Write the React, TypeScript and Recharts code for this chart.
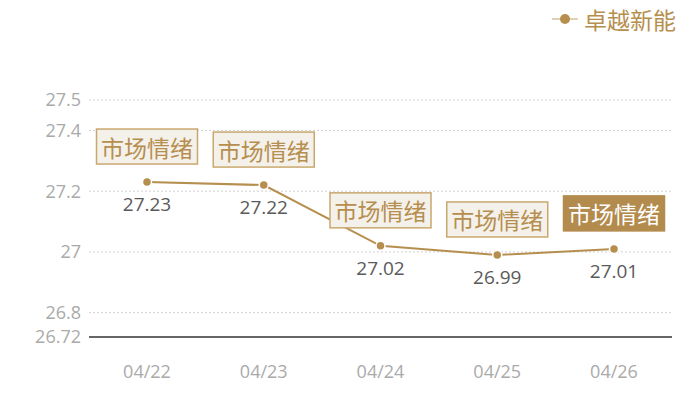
import React from 'react';
import { LineChart, Line, XAxis, YAxis, CartesianGrid } from 'recharts';

const dates = ['04/22', '04/23', '04/24', '04/25', '04/26'];
const prices = [27.23, 27.22, 27.02, 26.99, 27.01];
const tags = ['市场情绪', '市场情绪', '市场情绪', '市场情绪', '市场情绪'];
const yTicks = [26.72, 26.8, 27, 27.2, 27.4, 27.5];
const gridValues = [26.8, 27, 27.2, 27.4, 27.5];
const seriesName = '卓越新能';

const data = dates.map((d, i) => ({ date: d, price: prices[i], tag: tags[i] }));

const GOLD = '#b68e4e';
const HIGHLIGHT = dates.length - 1;
const CJK = '"Noto Sans CJK SC", "Open Sans", sans-serif';
const NUM = '"Open Sans", "Noto Sans", sans-serif';

const PointLabel = (props: any) => {
  const { x, y, value, index } = props;
  const hot = index === HIGHLIGHT;
  const w = 101;
  const h = 35;
  const top = y - 18 - h;
  return (
    <g>
      <rect
        x={x - w / 2}
        y={top}
        width={w}
        height={h}
        fill={hot ? '#b38b4d' : '#f4f0ea'}
        stroke={hot ? '#b38b4d' : '#c9a86e'}
        strokeWidth={1.5}
      />
      <text
        x={x}
        y={top + h / 2}
        textAnchor="middle"
        dominantBaseline="central"
        fontFamily={CJK}
        fontSize={23}
        fill={hot ? '#ffffff' : '#b68e4e'}
      >
        {tags[index]}
      </text>
      <text
        x={x}
        y={y + 22}
        textAnchor="middle"
        dominantBaseline="central"
        fontFamily={NUM}
        fontSize={19}
        fill="#5a5a5a"
      >
        {value}
      </text>
    </g>
  );
};

const LegendBox = () => (
  <div
    style={{
      position: 'absolute',
      top: 4,
      right: 24,
      display: 'flex',
      alignItems: 'center',
      fontFamily: CJK,
      fontSize: 23,
      color: GOLD,
      lineHeight: '30px',
    }}
  >
    <svg width={26} height={12} style={{ marginRight: 6 }}>
      <line x1={0} y1={6} x2={26} y2={6} stroke="#d6c19c" strokeWidth={1.5} />
      <circle cx={13} cy={6} r={5} fill={GOLD} />
    </svg>
    <span>{seriesName}</span>
  </div>
);

export default function App() {
  return (
    <div style={{ position: 'absolute', left: 0, top: 0, width: 700, height: 400, background: '#fff' }}>
      <LineChart width={700} height={400} data={data} margin={{ top: 100, right: 28, bottom: 33, left: 0 }}>
        <CartesianGrid
          horizontal
          vertical={false}
          horizontalValues={gridValues}
          stroke="#d0d0d0"
          strokeDasharray="2 2"
        />
        <XAxis
          dataKey="date"
          padding={{ left: 58, right: 58 }}
          axisLine={{ stroke: '#333333', strokeWidth: 1.5 }}
          tickLine={false}
          tickMargin={22}
          height={30}
          tick={{ fill: '#aaaaaa', fontSize: 18, fontFamily: NUM }}
        />
        <YAxis
          width={89}
          domain={[26.72, 27.5]}
          ticks={yTicks}
          axisLine={false}
          tickLine={false}
          interval={0}
          tick={{ fill: '#aaaaaa', fontSize: 18, fontFamily: NUM }}
        />
        <Line
          type="linear"
          dataKey="price"
          name={seriesName}
          stroke={GOLD}
          strokeWidth={2}
          dot={{ r: 4.5, fill: GOLD, stroke: '#ffffff', strokeWidth: 1.5 }}
          activeDot={false}
          label={<PointLabel />}
          isAnimationActive={false}
        />
      </LineChart>
      <LegendBox />
    </div>
  );
}
